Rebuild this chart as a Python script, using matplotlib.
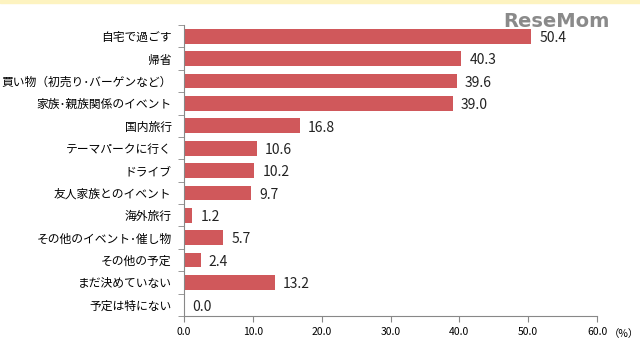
import matplotlib.pyplot as plt
import numpy as np

plt.rcParams['font.family'] = ['Noto Sans CJK JP', 'DejaVu Sans']

categories = [
    "自宅で過ごす", "帰省", "買い物（初売り･バーゲンなど）", "家族･親族関係のイベント",
    "国内旅行", "テーマパークに行く", "ドライブ", "友人家族とのイベント",
    "海外旅行", "その他のイベント･催し物", "その他の予定", "まだ決めていない", "予定は特にない",
]
values = [50.4, 40.3, 39.6, 39.0, 16.8, 10.6, 10.2, 9.7, 1.2, 5.7, 2.4, 13.2, 0.0]
xticks = [0, 10, 20, 30, 40, 50, 60]

fig = plt.figure(figsize=(6.4, 3.48), dpi=100)
ax = fig.add_axes([0.2875, 0.092, 0.6455, 0.836])

y = np.arange(len(categories))
ax.barh(y, values, height=0.66, color="#D0585B", zorder=2)
for yi, v in zip(y, values):
    ax.text(v + 1.2, yi + 0.08, f"{v:.1f}", va="center", ha="left", fontsize=10, color="#222222")

ax.set_xlim(0, 60)
ax.set_ylim(len(categories) - 0.5, -0.5)
ax.set_xticks(xticks)
ax.set_xticklabels([f"{t:.1f}" for t in xticks], fontsize=7.5)
ax.set_yticks(y)
ax.set_yticklabels(categories, fontsize=8.5)
ax.tick_params(axis="y", length=0, pad=9)
ax.set_yticks(np.arange(-0.5, len(categories), 1), minor=True)
ax.tick_params(axis="y", which="minor", length=4, color="#888888")
ax.tick_params(axis="x", length=4, color="#888888", pad=4)

for s in ["top", "right"]:
    ax.spines[s].set_visible(False)
for s in ["left", "bottom"]:
    ax.spines[s].set_color("#888888")

fig.text(0.975, 0.04, "（%）", fontsize=7.5, ha="center", va="center")

# top band and watermark
fig.patches.append(plt.Rectangle((0, 0.992), 1, 0.008, transform=fig.transFigure, color="#FDF3C0"))
fig.text(0.87, 0.937, "ReseMom", fontsize=14, fontweight="bold", color="#8a8a8a", ha="center", va="center", family="DejaVu Sans")

fig.savefig("out.png", dpi=100)
